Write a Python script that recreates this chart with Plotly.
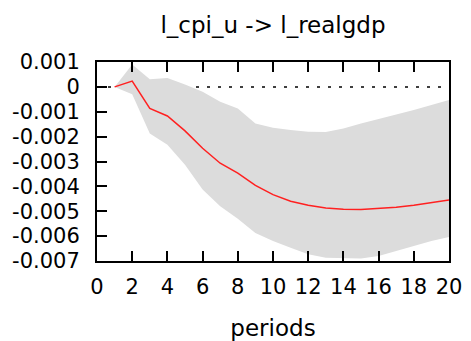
import plotly.graph_objects as go

periods = list(range(1, 21))
irf = [0.0, 0.00023, -0.00087, -0.00117, -0.00177, -0.00247, -0.00307, -0.00347,
       -0.00396, -0.00433, -0.0046, -0.00476, -0.00487, -0.00492, -0.00493, -0.0049,
       -0.00484, -0.00476, -0.00467, -0.00455]
upper = [0.0, 0.0009, 0.00031, 0.00036, 0.0001, -0.0002, -0.0006, -0.00087,
         -0.00147, -0.00164, -0.00173, -0.0018, -0.00181, -0.00167, -0.00147, -0.0013,
         -0.0011, -0.00093, -0.00073, -0.00053]
lower = [0.0, -0.0003, -0.00187, -0.00233, -0.00313, -0.00413, -0.0048, -0.0053,
         -0.00587, -0.0062, -0.00647, -0.00673, -0.00687, -0.0069, -0.0069, -0.0068,
         -0.0066, -0.0064, -0.0062, -0.00604]
x_ticks = list(range(0, 21, 2))
y_ticks = [0.001, 0, -0.001, -0.002, -0.003, -0.004, -0.005, -0.006, -0.007]
y_tick_text = ["0.001", "0", "-0.001", "-0.002", "-0.003", "-0.004", "-0.005", "-0.006", "-0.007"]

FONT = "DejaVu Sans"

fig = go.Figure()
# zero line (dotted, drawn beneath band)
fig.add_trace(go.Scatter(x=[0, 20], y=[0, 0], mode="lines",
                         line=dict(color="black", width=1.5, dash="3px,8px"),
                         hoverinfo="skip", showlegend=False))
# confidence band
fig.add_trace(go.Scatter(x=periods, y=upper, mode="lines",
                         line=dict(width=0, color="rgba(0,0,0,0)"),
                         showlegend=False, hoverinfo="skip"))
fig.add_trace(go.Scatter(x=periods, y=lower, mode="lines", fill="tonexty",
                         fillcolor="#dcdcdc", line=dict(width=0, color="rgba(0,0,0,0)"),
                         showlegend=False, hoverinfo="skip"))
# impulse response
fig.add_trace(go.Scatter(x=periods, y=irf, mode="lines",
                         line=dict(color="#ff2020", width=1.5), showlegend=False))

fig.update_layout(
    width=471, height=341,
    margin=dict(l=97, r=22, t=62, b=80, autoexpand=False),
    paper_bgcolor="white", plot_bgcolor="white",
    font=dict(family=FONT, size=21, color="black"),
    title=dict(text="l_cpi_u -> l_realgdp", x=273 / 471,
               xanchor="center", y=1 - 25 / 341, yanchor="middle",
               font=dict(family=FONT, size=23, color="black")),
)
fig.update_xaxes(range=[0, 20], tickvals=x_ticks, ticks="inside", ticklen=10,
                 tickwidth=1.5, tickcolor="black", showline=True, linecolor="black",
                 linewidth=2, mirror="ticks", showgrid=False, zeroline=False,
                 title=dict(text="periods", standoff=22, font=dict(size=23)),
                 tickfont=dict(size=21), ticklabelstandoff=6, automargin=False)
fig.update_yaxes(range=[-0.007, 0.001], tickvals=y_ticks, ticktext=y_tick_text,
                 ticks="inside", ticklen=10, tickwidth=1.5, tickcolor="black",
                 showline=True, linecolor="black", linewidth=2, mirror=True,
                 showgrid=False, zeroline=False, tickfont=dict(size=21),
                 ticklabelstandoff=11, automargin=False)

fig.write_html("out.html")
